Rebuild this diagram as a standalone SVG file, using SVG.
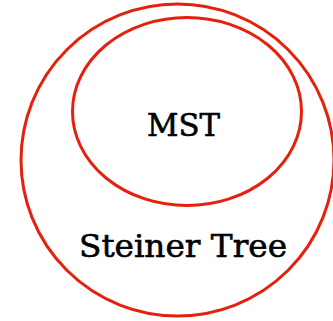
<svg xmlns="http://www.w3.org/2000/svg" width="333" height="321" viewBox="0 0 333 321">
  <style>
    .set { fill: none; stroke: #e5200c; stroke-width: 3; }
    .label { font-family: "DejaVu Serif", "Liberation Serif", serif; font-size: 32px; fill: #000; stroke: #000; stroke-width: 0.6; text-anchor: middle; }
  </style>
  <rect width="333" height="321" fill="#fff"/>
  <g id="steiner-tree">
    <ellipse class="set" cx="177.5" cy="160" rx="156.5" ry="156"/>
    <text class="label" x="183" y="256.5" textLength="208" lengthAdjust="spacingAndGlyphs">Steiner Tree</text>
  </g>
  <g id="mst">
    <ellipse class="set" cx="187" cy="111.5" rx="114.5" ry="94"/>
    <text class="label" x="183.5" y="136" textLength="73" lengthAdjust="spacingAndGlyphs">MST</text>
  </g>
  <g id="connectors"/>
</svg>
